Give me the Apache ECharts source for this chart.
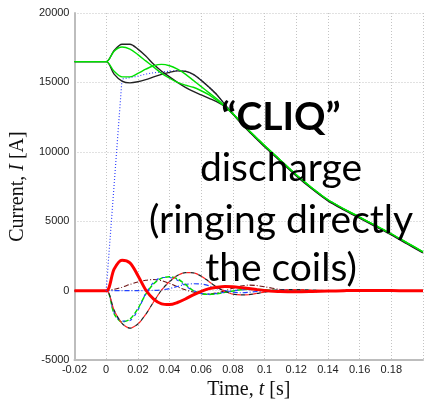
<!DOCTYPE html>
<html><head><meta charset="utf-8">
<script src="https://cdn.jsdelivr.net/npm/echarts@6/dist/echarts.min.js"></script>
<style>html,body{margin:0;padding:0;background:#fff}#c{width:428px;height:405px}</style>
</head><body><div id="c"></div>
<script>
// time axis (s)
const timeS = [-0.02,-0.01,0,0.005,0.01,0.015,0.02,0.025,0.03,0.035,0.04,0.045,0.05,0.055,0.06,0.065,0.07,0.075,0.08,0.085,0.09,0.095,0.1,0.11,0.12,0.13,0.14,0.15,0.16,0.17,0.18,0.19,0.2];
// upper group: coil currents (A)
const blackA = [16500,16500,16500,17300,17750,17750,17400,16900,16300,15800,15400,15000,14650,14350,14100,13850,13600,13250,12700,12080,11480,10920,10370,9320,8270,7320,6470,5820,5220,4620,4020,3370,2720];
const greenA = [16500,16500,16500,17250,17550,17400,17000,16550,16100,15650,15300,15000,14800,14650,14400,14100,13700,13250,12750,12150,11550,11000,10450,9400,8350,7400,6550,5900,5300,4700,4100,3450,2800];
const blackB = [16500,16500,16500,15600,15100,14970,15050,15200,15400,15580,15720,15830,15800,15580,15150,14650,14100,13400,12720,12100,11500,10950,10400,9350,8300,7350,6500,5850,5250,4650,4050,3400,2750];
const greenB = [16500,16500,16500,15800,15400,15400,15650,15950,16200,16300,16200,15950,15600,15150,14700,14250,13800,13300,12760,12150,11550,11000,10450,9400,8350,7400,6550,5900,5300,4700,4100,3450,2800];
const blueDot = [null,null,0,7600,15250,15350,15450,15600,15700,15750,15800,15850,15800,15580,15150,14650,14100,13400,12760,12140,11540,10990,10440,9390,8340,7390,6540,5890,5290,4690,4090,3440,2790];
// lower group: CLIQ / ringing currents (A)
const redThick = [0,0,0,1550,2200,2000,1100,50,-600,-950,-1000,-850,-600,-300,-50,150,250,300,280,220,150,80,20,-60,-80,-60,-30,0,20,20,10,0,0];
const greenDash = [0,0,0,-1650,-2250,-2050,-1300,-250,500,900,1000,850,450,0,-200,-270,-220,-120,-20,60,100,90,60,0,-30,-20,0,0,0,0,0,0,0];
const blueDashA = [0,0,0,-1550,-2200,-2150,-1400,-200,600,950,950,750,350,0,-200,-250,-200,-100,0,50,80,60,30,0,-20,0,0,0,0,0,0,0,0];
const blueDashB = [0,0,0,0,0,0,0,0,20,60,150,300,450,500,480,350,150,0,-100,-150,-120,-60,0,50,30,0,0,0,0,0,0,0,0];
const darkDash = [0,0,0,-1400,-2350,-2700,-2400,-1700,-800,50,650,1100,1300,1280,1050,650,250,-50,-250,-300,-280,-200,-100,50,80,50,0,0,0,0,0,0,0];
const humpDash = [0,0,0,100,250,450,620,750,800,720,520,280,60,-100,-220,-250,-150,0,180,330,400,370,280,80,-60,-80,-30,20,0,0,0,0,0];
// axis ticks
const xTicks = {min:-0.02, max:0.2, step:0.02};
const yTicks = {min:-5000, max:20000, step:5000};
const overlayLines = ['\u201CCLIQ\u201D','discharge','(ringing directly','the coils)'];

function pairs(vals){ return timeS.map((t,i)=>[t, vals[i]]); }
function mk(vals, color, width, type, smooth, dashOffset){
  return {type:'line', data:pairs(vals), showSymbol:false, symbol:'none', smooth:smooth, silent:true,
    lineStyle:{color:color, width:width, type:type, dashOffset:dashOffset||0}};
}
const chart = echarts.init(document.getElementById('c'), null, {renderer:'canvas'});
const serif = 'Liberation Serif';
chart.setOption({
  animation:false,
  grid:{left:69, right:5, top:13, bottom:44},
  xAxis:{type:'value', min:xTicks.min, max:xTicks.max, interval:xTicks.step,
    name:'Time, {i|t} [s]', nameLocation:'middle', nameGap:15,
    nameTextStyle:{fontFamily:serif, fontSize:20, color:'#111', rich:{i:{fontFamily:serif, fontSize:20, fontStyle:'italic', color:'#111'}}},
    axisLine:{show:true, onZero:false, lineStyle:{color:'#bdbdbd', width:2}},
    axisTick:{show:false},
    axisLabel:{showMaxLabel:false, margin:4, fontFamily:'Liberation Sans', fontSize:11, color:'#222',
      formatter:v=>String(Math.round(v*100)/100)},
    splitLine:{show:true, lineStyle:{color:'#c4c4c4', type:[1,2], width:1}}
  },
  yAxis:{type:'value', min:yTicks.min, max:yTicks.max, interval:yTicks.step,
    name:'Current, {i|I} [A]', nameLocation:'middle', nameGap:33,
    nameTextStyle:{fontFamily:serif, fontSize:20, color:'#111', rich:{i:{fontFamily:serif, fontSize:20, fontStyle:'italic', color:'#111'}}},
    axisLine:{show:true, onZero:false, lineStyle:{color:'#bdbdbd', width:2}},
    axisTick:{show:false},
    axisLabel:{margin:5, fontFamily:'Liberation Sans', fontSize:11, color:'#222', formatter:v=>String(v)},
    splitLine:{show:true, lineStyle:{color:'#c4c4c4', type:[1,2], width:1}}
  },
  series:[
    mk(humpDash,'#6a1010',1.1,[5,2,1,2],0.3),
    mk(blueDashB,'#2040ff',1.2,[5,2,1,2],0.3),
    mk(greenDash,'#00dd00',1.5,[5,2],0.3),
    mk(blueDashA,'#2040ff',1.2,[3,4],0.3,2),
    mk(darkDash,'#ff2020',1.2,[4,4],0.3),
    mk(darkDash,'#222222',1.2,[4,4],0.3,4),
    mk(redThick,'#ff0000',3,'solid',0.3),
    mk(blueDot,'#3344ff',1.2,[1,2],false),
    mk(blackB,'#222222',1.4,'solid',0.3),
    mk(blackA,'#222222',1.4,'solid',0.3),
    mk(greenB,'#00e000',1.4,'solid',0.3),
    mk(greenA,'#00e000',1.4,'solid',0.3)
  ],
  graphic: overlayLines.map((s,i)=>({type:'text', x:281, y:[117,168,220,268][i], z:100,
    style:{text:s, fill:'#000', textAlign:'center', textVerticalAlign:'middle',
      font:(i===0?'bold ':'')+'39px Lato'}}))
});
</script></body></html>
